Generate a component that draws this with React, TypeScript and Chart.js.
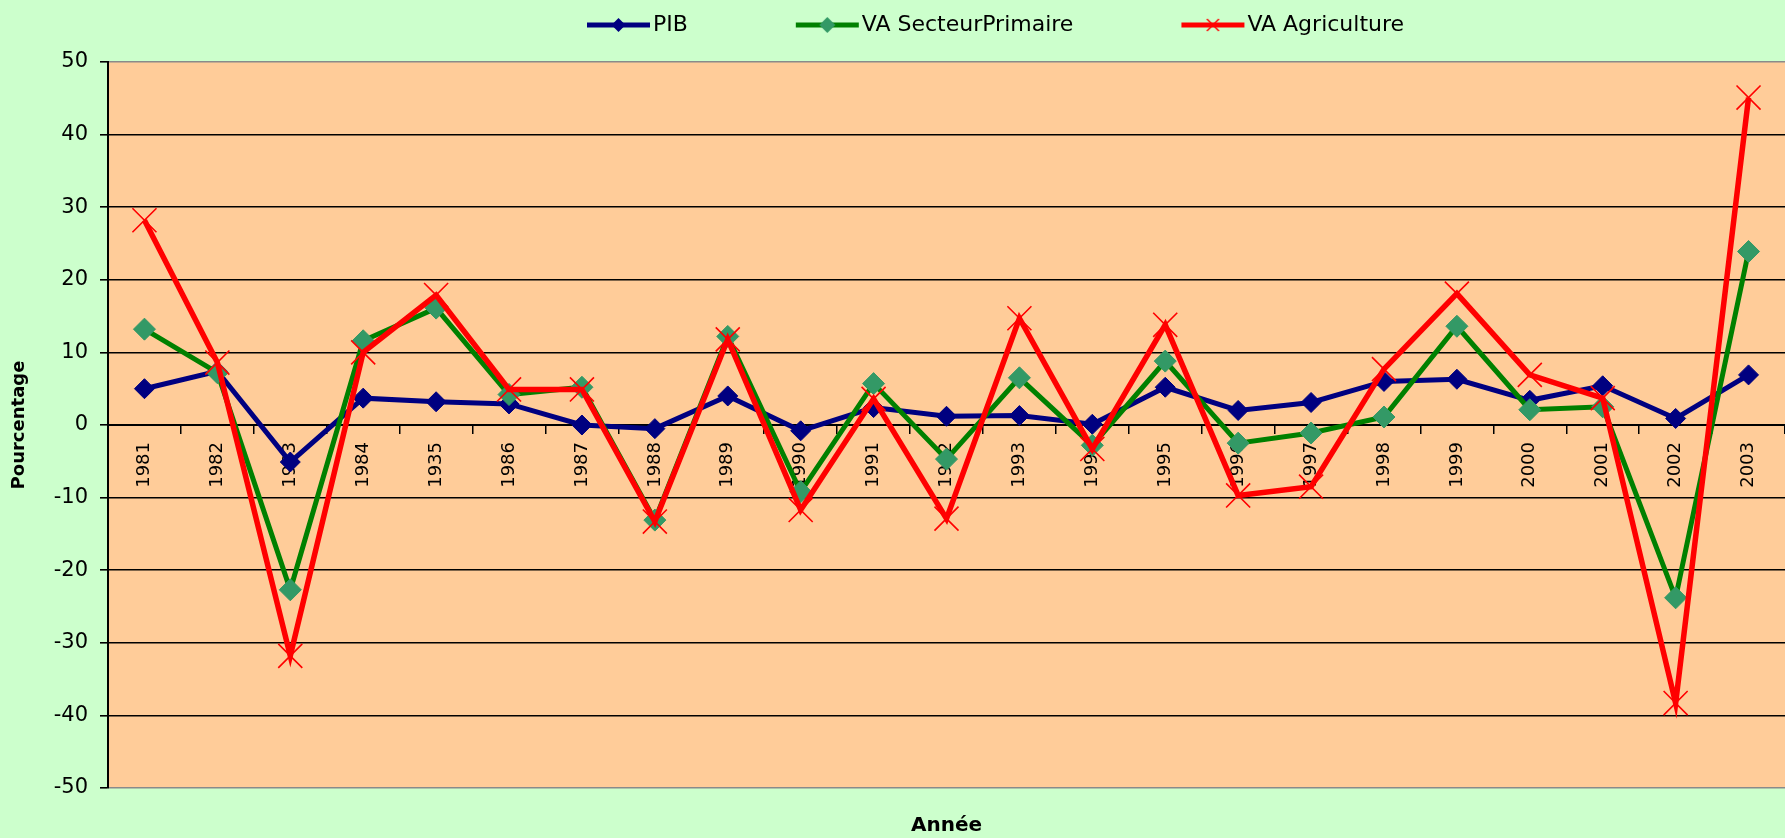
import React, { useEffect, useRef } from 'react';
import { Chart, registerables } from 'chart.js';

Chart.register(...registerables);

// ---- Data ----
const years = ['1981', '1982', '1983', '1984', '1935', '1986', '1987', '1988', '1989', '1990', '1991', '1992', '1993', '1994', '1995', '1996', '1997', '1998', '1999', '2000', '2001', '2002', '2003'];
const pib = [5.0, 7.4, -5.1, 3.7, 3.2, 2.9, 0.0, -0.5, 4.0, -0.8, 2.4, 1.2, 1.3, 0.1, 5.2, 2.0, 3.1, 6.0, 6.3, 3.4, 5.4, 0.9, 6.9];
const vaSecteurPrimaire = [13.2, 7.2, -22.7, 11.6, 16.1, 4.2, 5.2, -13.1, 12.2, -9.2, 5.7, -4.7, 6.5, -2.8, 8.8, -2.5, -1.1, 1.1, 13.6, 2.1, 2.5, -23.8, 23.9];
const vaAgriculture = [28.2, 8.6, -31.8, 10.0, 17.9, 4.9, 4.9, -13.3, 11.8, -11.7, 3.6, -12.9, 14.7, -3.3, 13.8, -9.7, -8.5, 7.7, 18.1, 6.9, 3.7, -38.3, 45.1];
const seriesNames = ['PIB', 'VA SecteurPrimaire', 'VA Agriculture'];
const yMin = -50;
const yMax = 50;
const yStep = 10;
const xTitle = 'Année';
const yTitle = 'Pourcentage';

// ---- Styles ----
const FONT = 'DejaVu Sans';
const PAGE_BG = '#CCFFCC';
const PLOT_BG = '#FFCC99';
const NAVY = '#000080';
const GREEN = '#008000';
const SEA = '#339966';
const RED = '#FF0000';
const LEGEND_FONT = 22;
const LEGEND_BOX = 153;
const LEGEND_HEIGHT = 58;

function makeSwatch(kind: string, lineColor: string, markColor: string, r: number): HTMLCanvasElement {
  const W = LEGEND_BOX + LEGEND_FONT;
  const H = 24;
  const c = document.createElement('canvas');
  c.width = W;
  c.height = H;
  const g = c.getContext('2d')!;
  const x2 = W - 3;
  const x1 = x2 - 63;
  const cy = H / 2;
  const cx = (x1 + x2) / 2;
  g.strokeStyle = lineColor;
  g.lineWidth = 5;
  g.beginPath();
  g.moveTo(x1, cy);
  g.lineTo(x2, cy);
  g.stroke();
  if (kind === 'diamond') {
    g.fillStyle = markColor;
    g.beginPath();
    g.moveTo(cx, cy - r);
    g.lineTo(cx + r, cy);
    g.lineTo(cx, cy + r);
    g.lineTo(cx - r, cy);
    g.closePath();
    g.fill();
  } else {
    g.strokeStyle = markColor;
    g.lineWidth = 1.5;
    g.beginPath();
    g.moveTo(cx - r, cy - r);
    g.lineTo(cx + r, cy + r);
    g.moveTo(cx + r, cy - r);
    g.lineTo(cx - r, cy + r);
    g.stroke();
  }
  return c;
}

const backgroundPlugin = {
  id: 'bgPlugin',
  beforeLayout(chart: any) {
    const lg = chart.legend;
    if (lg && !lg.__patched) {
      lg.__patched = true;
      const protoFit = Object.getPrototypeOf(lg).fit;
      lg.fit = function () {
        protoFit.call(this);
        this.height = LEGEND_HEIGHT;
      };
    }
  },
  beforeDraw(chart: any) {
    const { ctx, chartArea, width, height } = chart;
    ctx.save();
    ctx.fillStyle = PAGE_BG;
    ctx.fillRect(0, 0, width, height);
    ctx.fillStyle = PLOT_BG;
    ctx.fillRect(chartArea.left, chartArea.top, chartArea.right - chartArea.left, chartArea.bottom - chartArea.top);
    ctx.restore();
  },
};

export default function App() {
  const canvasRef = useRef<HTMLCanvasElement | null>(null);

  useEffect(() => {
    document.body.style.margin = '0';
    document.body.style.background = PAGE_BG;
    const canvas = canvasRef.current;
    if (!canvas) return;

    const swatches = [
      makeSwatch('diamond', NAVY, NAVY, 7),
      makeSwatch('diamond', GREEN, SEA, 8),
      makeSwatch('cross', RED, RED, 6),
    ];

    const chart = new Chart(canvas, {
      type: 'line',
      data: {
        labels: years,
        datasets: [
          {
            label: seriesNames[0],
            data: pib,
            borderColor: NAVY,
            backgroundColor: NAVY,
            borderWidth: 5,
            pointStyle: 'rectRot',
            pointRadius: 10,
            pointBackgroundColor: NAVY,
            pointBorderColor: NAVY,
            pointBorderWidth: 1,
            tension: 0,
            order: 3,
          },
          {
            label: seriesNames[1],
            data: vaSecteurPrimaire,
            borderColor: GREEN,
            backgroundColor: SEA,
            borderWidth: 5,
            pointStyle: 'rectRot',
            pointRadius: 11,
            pointBackgroundColor: SEA,
            pointBorderColor: SEA,
            pointBorderWidth: 1,
            tension: 0,
            order: 2,
          },
          {
            label: seriesNames[2],
            data: vaAgriculture,
            borderColor: RED,
            backgroundColor: RED,
            borderWidth: 5.5,
            pointStyle: 'crossRot',
            pointRadius: 17,
            pointBorderColor: RED,
            pointBorderWidth: 1.6,
            tension: 0,
            order: 1,
          },
        ],
      },
      options: {
        animation: false,
        responsive: false,
        events: [],
        layout: { autoPadding: false, padding: { top: 4, left: 0, right: 0, bottom: 0 } },
        scales: {
          x: {
            type: 'category',
            position: { y: 0 } as any,
            offset: true,
            grid: {
              display: true,
              offset: true,
              drawOnChartArea: false,
              drawTicks: true,
              tickLength: 8,
              color: '#000',
              lineWidth: 1.5,
            },
            border: { display: true, color: '#000', width: 2 },
            ticks: {
              autoSkip: false,
              minRotation: 90,
              maxRotation: 90,
              padding: 9,
              color: '#000',
              font: { family: FONT, size: 18 },
            },
            afterFit(scale: any) {
              scale.paddingLeft = 0;
              scale.paddingRight = 0;
            },
          },
          y: {
            type: 'linear',
            position: 'left',
            min: yMin,
            max: yMax,
            ticks: {
              stepSize: yStep,
              padding: 12,
              color: '#000',
              font: { family: FONT, size: 21 },
            },
            grid: {
              color: (c: any) => (c.tick && (c.tick.value === yMax || c.tick.value === yMin) ? '#8a8a8a' : '#000'),
              tickColor: '#000',
              lineWidth: 1.6,
              tickLength: 8,
              drawTicks: true,
            },
            border: { display: true, color: '#000', width: 2 },
            title: {
              display: true,
              text: yTitle,
              color: '#000',
              font: { family: FONT, size: 18, weight: 'bold' },
              padding: { top: 9, bottom: 0 },
            },
            afterFit(scale: any) {
              scale.width = 108;
            },
          },
        },
        plugins: {
          legend: {
            display: true,
            position: 'top',
            fullSize: false,
            labels: {
              usePointStyle: true,
              pointStyleWidth: LEGEND_BOX,
              boxWidth: LEGEND_BOX,
              padding: 10,
              color: '#000',
              font: { family: FONT, size: LEGEND_FONT },
              generateLabels(ch: any) {
                const items = Chart.defaults.plugins.legend.labels.generateLabels(ch);
                items.sort((a: any, b: any) => a.datasetIndex - b.datasetIndex);
                return items.map((it: any) => ({ ...it, pointStyle: swatches[it.datasetIndex], fontColor: '#000' }));
              },
            },
          },
          title: {
            display: true,
            position: 'bottom',
            fullSize: false,
            text: xTitle,
            color: '#000',
            font: { family: FONT, size: 20, weight: 'bold' },
            padding: { top: 26, bottom: 0 },
          },
          tooltip: { enabled: false },
        },
      },
      plugins: [backgroundPlugin],
    });

    return () => {
      chart.destroy();
    };
  }, []);

  return (
    <div style={{ width: 1785, height: 838, background: PAGE_BG }}>
      <canvas ref={canvasRef} width={1785} height={838} style={{ width: 1785, height: 838, display: 'block' }} />
    </div>
  );
}
